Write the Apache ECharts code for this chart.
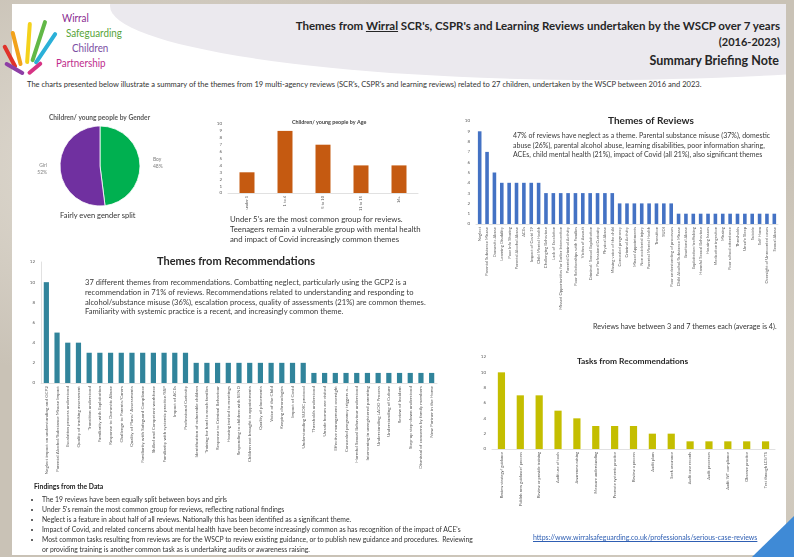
<!DOCTYPE html>
<html><head><meta charset="utf-8">
<script src="https://cdn.jsdelivr.net/npm/echarts@6/dist/echarts.min.js"></script>
<style>
html,body{margin:0;padding:0;width:794px;height:557px;overflow:hidden;font-family:Lato,"Open Sans",sans-serif;}
#bg{position:absolute;left:0;top:0;width:794px;height:557px;
background:radial-gradient(ellipse at 20% 30%,#e2ddd4 0%,rgba(0,0,0,0) 40%),radial-gradient(ellipse at 80% 70%,#d9d3c8 0%,rgba(0,0,0,0) 45%),#c9c2b6;}
#page{position:absolute;left:12px;top:4px;width:774px;height:551px;background:#fff;overflow:hidden;}
#ell{position:absolute;left:98px;top:-72px;width:980px;height:148px;border-radius:50%;background:#ebe9ee;}
#chart{position:absolute;left:0;top:0;width:794px;height:557px;}
.t{position:absolute;color:#262626;white-space:nowrap;}
.p{position:absolute;color:#3a3a3a;font-size:7.2px;line-height:9.6px;white-space:nowrap;}
.logo{position:absolute;font-size:12px;transform-origin:left top;transform:scaleX(0.82);white-space:nowrap;font-family:Lato,sans-serif;}
.f{position:absolute;border-radius:4px;transform-origin:50% 100%;}
#tri{position:absolute;left:752px;top:516px;width:42px;height:41px;background:#3f8ad6;clip-path:polygon(100% 0,100% 100%,0 100%);}
ul{margin:0;padding-left:8px;}
li{margin:0;line-height:10.1px;}
</style></head>
<body>
<div id="bg"></div>
<div id="page"><div id="ell"></div></div>
<div id="tri"></div>
<!-- logo hand -->
<div class="f" style="left:14px;top:42px;width:4px;height:26px;background:#e0322b;transform:rotate(-28deg);"></div>
<div class="f" style="left:19px;top:30px;width:4px;height:36px;background:#f2a21b;transform:rotate(-14deg);"></div>
<div class="f" style="left:25px;top:22px;width:4px;height:42px;background:#f4d21c;transform:rotate(4deg);"></div>
<div class="f" style="left:30px;top:18px;width:4px;height:44px;background:#62b847;transform:rotate(18deg);"></div>
<div class="f" style="left:33px;top:26px;width:4px;height:38px;background:#2bb0d8;transform:rotate(34deg);"></div>
<div class="f" style="left:22px;top:52px;width:4px;height:22px;background:#8e3fa6;transform:rotate(-60deg);"></div>
<div class="f" style="left:26px;top:56px;width:4px;height:18px;background:#d63384;transform:rotate(50deg);"></div>
<div class="logo" style="left:62px;top:10px;color:#8a2c91;">Wirral</div>
<div class="logo" style="left:66px;top:25px;color:#57a43a;">Safeguarding</div>
<div class="logo" style="left:72px;top:40px;color:#7b4fa3;">Children</div>
<div class="logo" style="left:56px;top:55px;color:#c02d8c;">Partnership</div>

<div class="t" style="right:14px;top:19px;font-weight:bold;font-size:11.5px;text-align:right;">Themes from <u>Wirral</u> SCR's, CSPR's and Learning Reviews undertaken by the WSCP over 7 years</div>
<div class="t" style="right:14px;top:35px;font-weight:bold;font-size:11px;">(2016-2023)</div>
<div class="t" style="right:15px;top:53px;font-weight:bold;font-size:12.5px;">Summary Briefing Note</div>
<div class="t" style="left:27px;top:80px;font-size:7.55px;color:#333;">The charts presented below illustrate a summary of the themes from 19 multi-agency reviews (SCR's, CSPR's and learning reviews) related to 27 children, undertaken by the WSCP between 2016 and 2023.</div>

<div id="chart"></div>

<div class="t" style="left:60px;top:211px;font-size:7.5px;color:#333;">Fairly even gender split</div>
<div class="p" style="left:230px;top:214px;font-size:7.8px;line-height:10px;">Under 5's are the most common group for reviews.<br>Teenagers remain a vulnerable group with mental health<br>and impact of Covid increasingly common themes</div>
<div class="p" style="left:513px;top:131px;font-size:7px;">47% of reviews have neglect as a theme. Parental substance misuse (37%), domestic<br>abuse (26%), parental alcohol abuse, learning disabilities, poor information sharing,<br>ACEs, child mental health (21%), impact of Covid (all 21%), also significant themes</div>
<div class="t" style="left:593px;top:322px;font-size:7.2px;color:#333;">Reviews have between 3 and 7 themes each (average is 4).</div>
<div class="p" style="left:85px;top:278px;font-size:7.6px;line-height:9.8px;">37 different themes from recommendations. Combatting neglect, particularly using the GCP2 is a<br>recommendation in 71% of reviews. Recommendations related to understanding and responding to<br>alcohol/substance misuse (36%), escalation process, quality of assessments (21%) are common themes.<br>Familiarity with systemic practice is a recent, and increasingly common theme.</div>
<div class="t" style="left:34px;top:482px;font-size:6.8px;font-weight:bold;color:#222;">Findings from the Data</div>
<div class="p" style="left:34px;top:494px;width:440px;font-size:6.8px;line-height:10.1px;color:#333;white-space:normal;">
<ul>
<li>The 19 reviews have been equally split between boys and girls</li>
<li>Under 5's remain the most common group for reviews, reflecting national findings</li>
<li>Neglect is a feature in about half of all reviews. Nationally this has been identified as a significant theme.</li>
<li>Impact of Covid, and related concerns about mental health have been become increasingly common as has recognition of the impact of ACE's</li>
<li>Most common tasks resulting from reviews are for the WSCP to review existing guidance, or to publish new guidance and procedures.&nbsp; Reviewing or providing training is another common task as is undertaking audits or awareness raising.</li>
</ul></div>
<div class="t" style="left:533px;top:533px;font-size:7px;color:#2f5fb3;text-decoration:underline;">https://www.wirralsafeguarding.co.uk/professionals/serious-case-reviews</div>

<script>
// ---- data ----
const genderNames = ['Boy', 'Girl'];
const genderValues = [48, 52];

const ageCategories = ['under 1', '1 to 4', '5 to 10', '11 to 15', '16+'];
const ageValues = [3, 9, 7, 4, 4];

const reviewThemes = ['Neglect', 'Parental Substance Misuse', 'Domestic Abuse', 'Learning Disability', 'Poor Info Sharing',
  'Parental Alcohol Abuse', 'ACEs', 'Impact of Covid 19', 'Child Mental Health', 'Challenging Behaviour',
  'Lack of Escalation', 'Missed Opportunities for Earlier Intervention', 'Parental Criminal Activity',
  'Poor Relationships with Families', 'Victim of Assault', 'Criminal/ Sexual Exploitation', 'Poor Professional Curiosity',
  'Physical Abuse', 'Missing voice of the child', 'Concealed pregnancy', 'Criminal Activity', 'Missed Appointments',
  'Non accidental injury', 'Parental Mental Health', 'Transition', 'SUDI', 'Poor understanding of processes',
  'Child Alcohol/Substance Misuse', 'Emotional Abuse', 'Exploitation/trafficking', 'Harmful Sexual Behaviour',
  'Housing Issues', 'Medication ingestion', 'Missing', 'Poor school attendance', 'Thresholds', 'Unsafe Sleep',
  'Suicide', 'Self Harm', 'Oversight of Unrecorded cases', 'Sexual Abuse'];
const reviewCounts = [9, 7, 5, 4, 4, 4, 4, 4, 4, 3, 3, 3, 3, 3, 3, 3, 3, 3, 3, 2, 2, 2, 2, 2, 2, 2, 2,
  1, 1, 1, 1, 1, 1, 1, 1, 1, 1, 1, 1, 1, 1];

const recThemes = ['Neglect impact on understanding and GCP2', 'Parental Alcohol/Substance Misuse Impact',
  'Escalation process understood', 'Quality of tracking assessment', 'Transition understood',
  'Familiarity with Exploitation', 'Response to Domestic Abuse', 'Challenge to Parents/Carers',
  'Quality of Plans/ Assessments', 'Familiarity with Safeguard Compliance', 'Skilled and Competent workforce',
  'Familiarity with systemic practice/SSP', 'Impact of ACEs', 'Professional Curiosity',
  'Identification of vulnerable children', 'Training for hard to reach families', 'Response to Criminal Behaviour',
  'Housing invited to meetings', 'Responding to children with SEND', 'Children not brought to appointments',
  'Quality of placements', 'Voice of the Child', 'Keeping chronologies', 'Impact of Covid',
  'Understanding SUDIC protocol', 'Thresholds understood', 'Unsafe homes are visited',
  'Effective management oversight', 'Concealed pregnancy triggers a...', 'Harmful Sexual Behaviour understood',
  'Intervening in unregistered parenting', 'Understanding LADO Process', 'Understanding of Culture',
  'Review of Incident', 'Step-up step-down understood', 'Dismissal of concerns by family members',
  'New Partner in the Home'];
const recCounts = [10, 5, 4, 4, 3, 3, 3, 3, 3, 3, 3, 3, 3, 3, 2, 2, 2, 2, 2, 2, 2, 2, 2, 2, 2,
  1, 1, 1, 1, 1, 1, 1, 1, 1, 1, 1, 1];

const taskNames = ['Review strategy/ guidance', 'Publish new guidance/ process', 'Review or provide training',
  'Audit use of tools', 'Awareness raising', 'Measure understanding', 'Promote systemic practice',
  'Review a process', 'Audit plans', 'Seek assurance', 'Audit case records', 'Audit processes',
  'Audit WT compliance', 'Observe practice', 'Test through LCS/TS'];
const taskCounts = [10, 7, 7, 5, 4, 3, 3, 3, 2, 2, 1, 1, 1, 1, 1];

// ---- chart ----
const FONT = 'Lato, "Open Sans", sans-serif';
const chart = echarts.init(document.getElementById('chart'), null, {renderer: 'canvas'});

function xAx(idx, data, fs) {
  return {
    type: 'category', gridIndex: idx, data: data,
    axisTick: {show: false},
    axisLine: {lineStyle: {color: '#d9d9d9', width: 0.8}},
    axisLabel: {interval: 0, rotate: 90, fontSize: fs, color: '#595959', margin: 3, fontFamily: FONT}
  };
}
function yAx(idx, max, interval, showLine) {
  return {
    type: 'value', gridIndex: idx, min: 0, max: max, interval: interval,
    splitLine: {show: false}, axisTick: {show: false},
    axisLine: {show: showLine, lineStyle: {color: '#d9d9d9', width: 0.8}},
    axisLabel: {fontSize: 4.5, color: '#595959', margin: 6, fontFamily: FONT}
  };
}

const option = {
  animation: false,
  textStyle: {fontFamily: FONT},
  title: [
    {text: 'Children/ young people by Gender', left: 44, top: 109,
      textStyle: {fontSize: 6.6, fontWeight: 'bold', color: '#595959', fontFamily: FONT}},
    {text: 'Children/ young people by Age', left: 287, top: 115,
      textStyle: {fontSize: 5.4, fontWeight: 'bold', color: '#404040', fontFamily: FONT}},
    {text: 'Themes of Reviews', left: 603, top: 111,
      textStyle: {fontSize: 10, fontWeight: 'bold', color: '#262626', fontFamily: FONT}},
    {text: 'Themes from Recommendations', left: 152, top: 251,
      textStyle: {fontSize: 11, fontWeight: 'bold', color: '#262626', fontFamily: FONT}},
    {text: 'Tasks from Recommendations', left: 572, top: 352,
      textStyle: {fontSize: 8.4, fontWeight: 'bold', color: '#262626', fontFamily: FONT}}
  ],
  grid: [
    {left: 228, top: 124, width: 190, height: 69},
    {left: 476, top: 121, width: 302, height: 103},
    {left: 41, top: 262, width: 396, height: 121},
    {left: 492, top: 357, width: 283, height: 92}
  ],
  xAxis: [
    xAx(0, ageCategories, 4),
    xAx(1, reviewThemes, 4.2),
    xAx(2, recThemes, 4.6),
    xAx(3, taskNames, 4)
  ],
  yAxis: [
    yAx(0, 10, 1, false),
    yAx(1, 10, 1, false),
    yAx(2, 12, 2, true),
    yAx(3, 12, 2, false)
  ],
  series: [
    {type: 'pie', center: [100, 166], radius: 40, startAngle: 90, clockwise: true,
      itemStyle: {borderColor: '#fff', borderWidth: 0.8},
      label: {show: true, position: 'outside', formatter: '{b}\n{c}%', fontSize: 5, color: '#7f7f7f',
        lineHeight: 7, fontFamily: FONT},
      labelLine: {show: false, length: 6, length2: 2},
      data: genderNames.map((n, i) => ({name: n, value: genderValues[i],
        itemStyle: {color: i === 0 ? '#00b050' : '#7030a0'}}))},
    {type: 'bar', xAxisIndex: 0, yAxisIndex: 0, data: ageValues, barWidth: 15,
      itemStyle: {color: '#c55a11'}},
    {type: 'bar', xAxisIndex: 1, yAxisIndex: 1, data: reviewCounts, barWidth: 3.6,
      itemStyle: {color: '#4472c4'}},
    {type: 'bar', xAxisIndex: 2, yAxisIndex: 2, data: recCounts, barWidth: 5.2,
      itemStyle: {color: '#31849b'}},
    {type: 'bar', xAxisIndex: 3, yAxisIndex: 3, data: taskCounts, barWidth: 7.2,
      itemStyle: {color: '#c4be00'}}
  ]
};
chart.setOption(option);
</script>
</body></html>
